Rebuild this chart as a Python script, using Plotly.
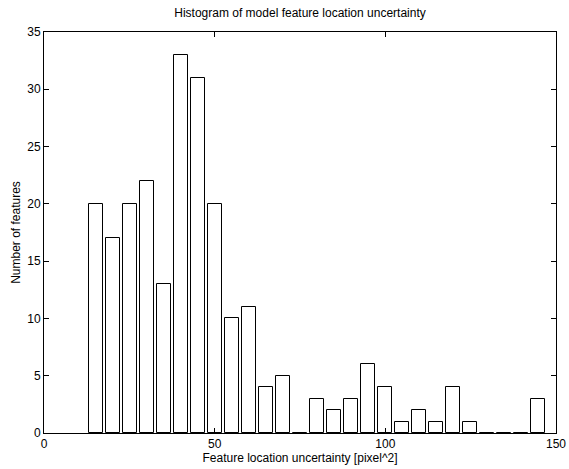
import plotly.graph_objects as go

bin_centers = [15.2 + 4.98 * k for k in range(27)]
counts = [20, 17, 20, 22, 13, 33, 31, 20, 10, 11, 4, 5, 0, 3, 2, 3, 6, 4, 1, 2, 1, 4, 1, 0, 0, 0, 3]
x_ticks = [0, 50, 100, 150]
y_ticks = [0, 5, 10, 15, 20, 25, 30, 35]

title_text = "Histogram of model feature location uncertainty"
x_title = "Feature location uncertainty [pixel^2]"
y_title = "Number of features"

fig = go.Figure()
fig.add_trace(go.Bar(
    x=bin_centers, y=counts, width=4.98 * 0.8,
    marker=dict(color="white", line=dict(color="black", width=1)),
    showlegend=False,
))

font = dict(family="Liberation Sans, Arial, sans-serif", size=12, color="black")
axis_common = dict(
    showgrid=False, zeroline=False, showline=True, linecolor="black", linewidth=1,
    mirror="ticks", ticks="inside", ticklen=5, tickcolor="black", tickwidth=1,
    tickfont=font, automargin=False,
)
fig.update_layout(
    width=569, height=469,
    margin=dict(l=44, r=13, t=32, b=36),
    paper_bgcolor="white", plot_bgcolor="white",
    font=font,
    title=dict(text=title_text, x=0.5, xanchor="center", xref="paper", y=0.982, yanchor="top",
               font=font),
    xaxis=dict(range=[0, 150], tickvals=x_ticks,
               title=dict(text=x_title, standoff=0, font=font), **axis_common),
    yaxis=dict(range=[0, 35], tickvals=y_ticks,
               title=dict(text=y_title, standoff=4, font=font), **axis_common),
    bargap=0,
)
fig.write_html("out.html", config={"displayModeBar": False},
               post_script="document.body.style.margin='0';document.body.style.overflow='hidden';")
